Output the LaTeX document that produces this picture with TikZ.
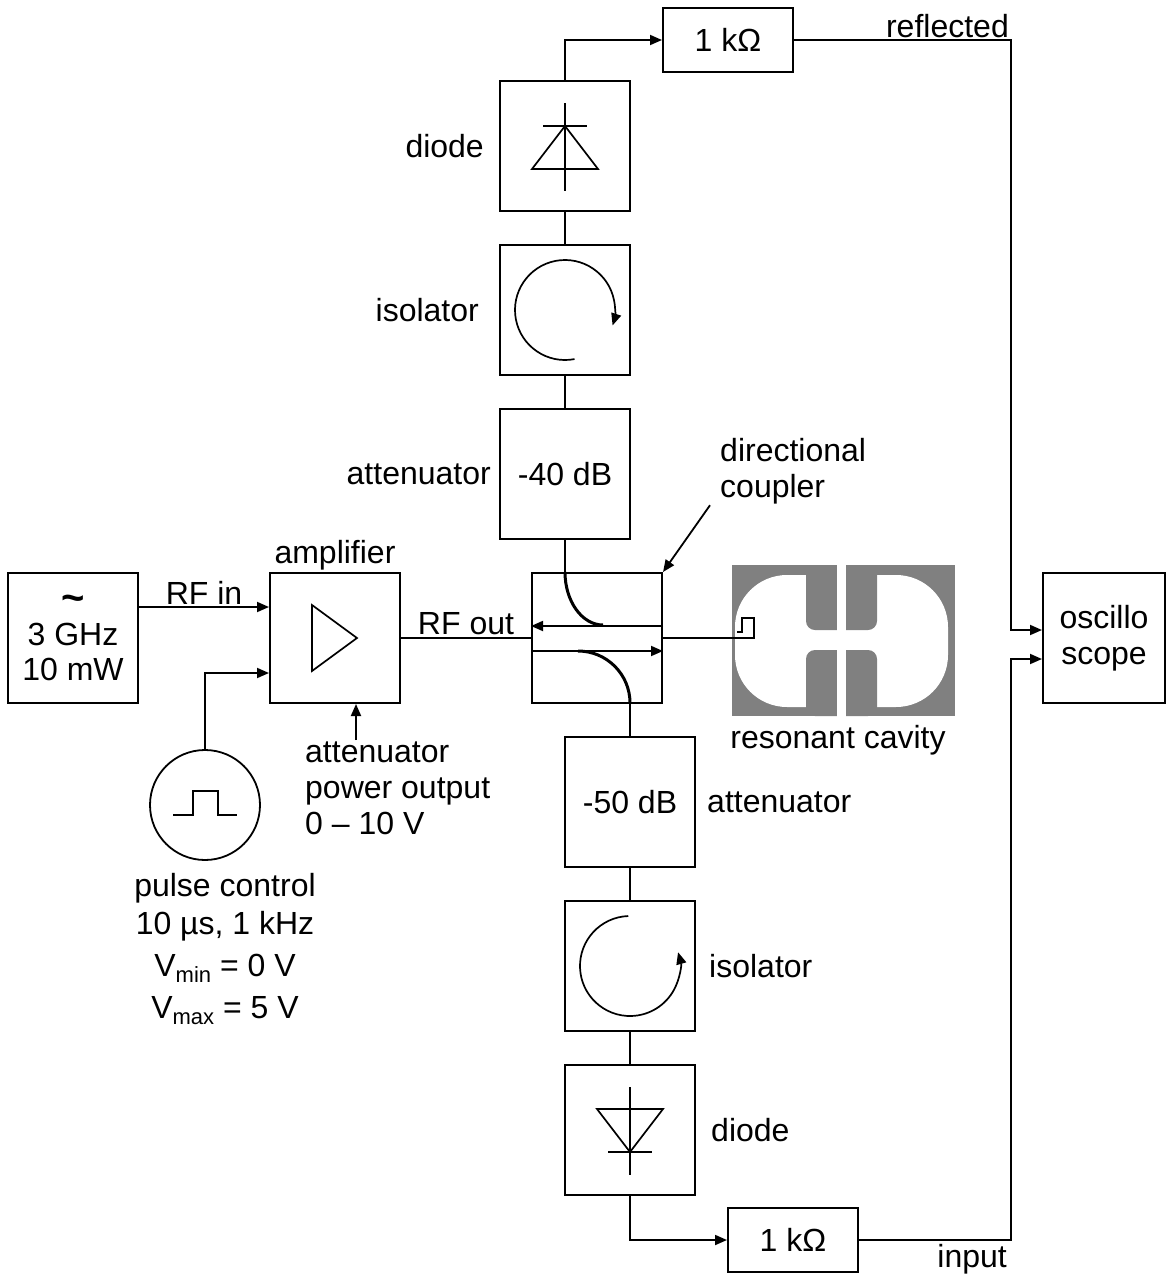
\documentclass[tikz,border=0pt]{standalone}
\usepackage{fontspec}
\setmainfont{Liberation Sans}
\usetikzlibrary{positioning, arrows.meta}
\definecolor{cavitygray}{RGB}{128,128,128}

\tikzset{
  blk/.style={draw, line width=2pt, minimum width=130pt, minimum height=130pt, inner sep=0pt},
  res/.style={draw, line width=2pt, minimum width=130pt, minimum height=64pt, inner sep=0pt},
  lbl/.style={inner sep=2pt},
  wire/.style={line width=1.8pt},
  arr/.style={wire, -{Triangle[length=12pt, width=10pt]}},
  sym/.style={line width=1.7pt},
}
\newcommand{\lowsub}[1]{\raisebox{-6pt}{\fontsize{22}{22}\selectfont #1}}

\begin{document}
\begin{tikzpicture}[x=1pt, y=1pt, node distance=32pt and 130pt,
  font=\fontsize{32}{36}\selectfont]
  \useasboundingbox (0,0) rectangle (1167,-1277);

  % main line: source -> amplifier -> coupler
  \node[blk] (coupler) at (597,-638) {};
  \node[blk, left=of coupler] (amp) {};
  \node[blk, left=of amp, align=center] (src)
    {{\fontsize{40}{36}\selectfont\bfseries\textasciitilde}\\[-2pt]3 GHz\\[-1pt]10 mW};
  \node[circle, draw, wire, minimum size=110pt, inner sep=0pt] (pulse) at (205,-805) {};

  % reflected branch
  \node[blk, above=of coupler, xshift=-32pt] (att1) {-40 dB};
  \node[blk, above=of att1] (iso1) {};
  \node[blk, above=of iso1] (dio1) {};
  \node[res] (r1) at (728,-40) {1 kΩ};

  % input branch
  \node[blk, below=of coupler, xshift=33pt] (att2) {-50 dB};
  \node[blk, below=of att2] (iso2) {};
  \node[blk, below=of iso2] (dio2) {};
  \node[res] (r2) at (793,-1240) {1 kΩ};

  \node[blk, minimum width=122pt, align=center] (scope) at (1104,-638) {oscillo\\scope};
  \coordinate (bus) at ([xshift=-31pt]scope.west);

  % labels
  \node[lbl, above=0pt of amp] (amplbl) {amplifier};
  \node[lbl, left=13pt of dio1] (dio1lbl) {diode};
  \node[lbl, left=18pt of iso1] (iso1lbl) {isolator};
  \node[lbl, left=6pt of att1] (att1lbl) {attenuator};
  \node[lbl, right=9pt of att2] (att2lbl) {attenuator};
  \node[lbl, right=11pt of iso2] (iso2lbl) {isolator};
  \node[lbl, right=13pt of dio2] (dio2lbl) {diode};
  \node[lbl, anchor=north west, align=left, inner sep=0pt] (dclbl) at (720,-438) {directional\\coupler};
  \node[lbl, below=12pt of pulse, xshift=20pt, align=center, inner sep=0pt, font=\fontsize{32}{38}\selectfont] (pulselbl)
    {pulse control\\10 µs, 1 kHz\\[4pt]V\lowsub{min} = 0 V\\[4pt]V\lowsub{max} = 5 V};
  \node[lbl, anchor=south east] (refllbl) at (bus |- r1) {reflected};
  \node[lbl, anchor=north east, inner sep=4pt] (inlbl) at (bus |- r2) {input};

  % symbols inside the boxes
  \begin{scope}[shift={(amp.center)}]
    \draw[sym] (-23,33) -- (22,0) -- (-23,-33) -- cycle;
  \end{scope}
  \begin{scope}[shift={(dio1.center)}]
    \draw[sym] (0,43) -- (0,-45);
    \draw[sym] (0,20) -- (-33,-23) -- (33,-23) -- cycle;
    \draw[sym] (-22,20) -- (22,20);
  \end{scope}
  \begin{scope}[shift={(dio2.center)}]
    \draw[sym] (0,43) -- (0,-45);
    \draw[sym] (0,-22) -- (-33,21) -- (33,21) -- cycle;
    \draw[sym] (-22,-22) -- (22,-22);
  \end{scope}
  \begin{scope}[shift={(iso1.center)}]
    \draw[sym, -{Triangle[length=12pt, width=10pt]}] (281:50) arc[start angle=281, end angle=-18, radius=50];
  \end{scope}
  \begin{scope}[shift={(iso2.center)}]
    \draw[sym, -{Triangle[length=12pt, width=10pt]}] (92:50) arc[start angle=92, end angle=376, radius=50];
  \end{scope}
  \begin{scope}[shift={(pulse.center)}]
    \draw[sym] (-32,-10) -- (-12,-10) -- (-12,14) -- (13,14) -- (13,-10) -- (32,-10);
  \end{scope}

  % coupler internals
  \draw[arr] ([yshift=12pt]coupler.east) -- ([yshift=12pt]coupler.west);
  \draw[arr] ([yshift=-13pt]coupler.west) -- ([yshift=-13pt]coupler.east);
  \draw[line width=3pt] (att1.south |- coupler.north) arc[start angle=180, end angle=270, x radius=38, y radius=53];
  \draw[line width=3pt] ([shift={(-19pt,-13pt)}]coupler.center) arc[start angle=90, end angle=0, radius=52];

  % resonant cavity
  \fill[cavitygray] (732,-565) rectangle (955,-716);
  \fill[white, rounded corners=52pt] (735,-575) rectangle (948,-707);
  \fill[cavitygray, rounded corners=9pt] (806,-565) rectangle (877,-630);
  \fill[cavitygray, rounded corners=9pt] (806,-650) rectangle (877,-716);
  \fill[white] (837,-560) rectangle (846,-720);
  \node[lbl] (cavlbl) at (838,-740) {resonant cavity};
  \coordinate (probe) at (754,-638);

  % connections
  \draw[arr] ([yshift=31pt]src.east) -- node[above, lbl] (rfin) {RF in} ([yshift=31pt]amp.west);
  \draw[arr] (pulse) |- ([yshift=-35pt]amp.west);
  \coordinate (ctl) at ([xshift=21pt, yshift=-36pt]amp.south);
  \draw[arr] (ctl) -- ([xshift=21pt]amp.south);
  \node[lbl, anchor=north west, align=left, inner sep=0pt] (ctllbl) at ([xshift=-51pt, yshift=-2pt]ctl)
    {attenuator\\power output\\0 – 10 V};
  \draw[wire] (amp) -- node[above, lbl] (rfout) {RF out} (coupler);
  \draw[wire] (coupler.east) -- (probe) -- ++(0,20) -- ++(-12,0) -- ++(0,-14) -- ++(-5,0);
  \draw[arr] ([xshift=-10pt, yshift=-1pt]dclbl.south west) -- (coupler.north east);

  \draw[wire] (att1) -- (att1.south |- coupler.north);
  \draw[wire] (iso1) -- (att1);
  \draw[wire] (dio1) -- (iso1);
  \draw[arr] (dio1) |- (r1);
  \draw[arr] (r1) -| ([yshift=8pt]bus) -- ([yshift=8pt]scope.west);

  \draw[wire] (att2 |- coupler.south) -- (att2);
  \draw[wire] (att2) -- (iso2);
  \draw[wire] (iso2) -- (dio2);
  \draw[arr] (dio2) |- (r2);
  \draw[arr] (r2) -| ([yshift=-21pt]bus) -- ([yshift=-21pt]scope.west);
\end{tikzpicture}
\end{document}
